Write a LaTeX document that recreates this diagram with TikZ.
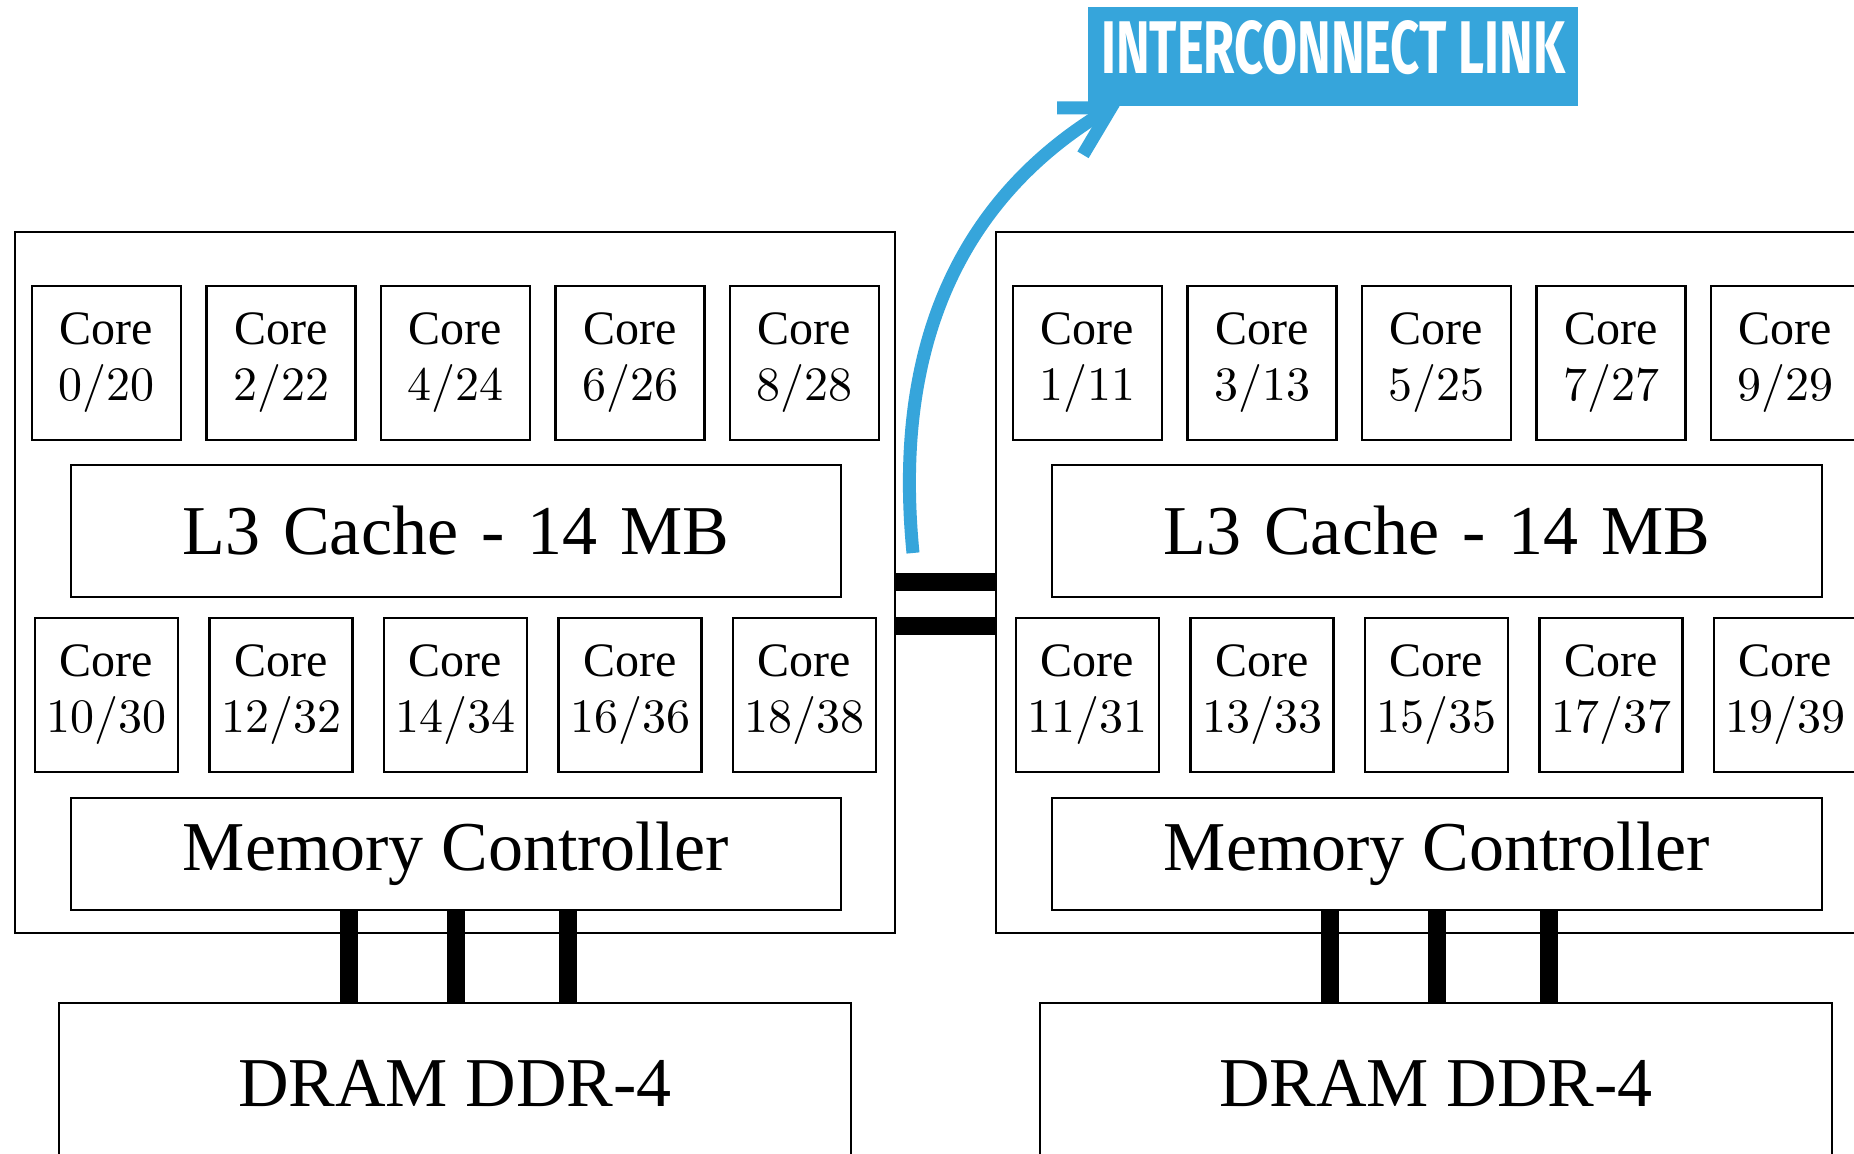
\documentclass[tikz,border=0pt]{standalone}
\usepackage{fontspec}
\setmainfont{Liberation Serif}
\newfontfamily\lmfont{lmroman10-regular}[Extension=.otf]
\newfontfamily\labelfont{Fira Sans}
\usepackage{graphicx}
\definecolor{linkblue}{RGB}{54,165,219}
\tikzset{
  box/.style={draw, line width=1.2pt, inner sep=0pt},
  corebox/.style={box, minimum width=74.5pt, minimum height=77pt, align=center,
    font=\fontsize{24}{28}\selectfont},
  bcorebox/.style={corebox, minimum width=71.5pt},
  widebox/.style={box, minimum width=385pt, font=\fontsize{35}{40}\selectfont},
  outerbox/.style={box, minimum width=440pt, minimum height=350.5pt},
  drambox/.style={box, minimum width=396pt, minimum height=80pt, font=\fontsize{35}{40}\selectfont},
  bus/.style={line width=9pt},
  linkbar/.style={line width=9pt},
  bluearrow/.style={draw=linkblue, line width=6.5pt},
}
\begin{document}
\begin{tikzpicture}[x=0.5pt,y=-0.5pt]
\clip (0,0) rectangle (1854,1154);
\fill[white] (0,0) rectangle (1854,1154);

% ---- left socket ----
\node[outerbox] (outL) at (455,582.5) {};
\foreach \a/\b [count=\i from 0] in {0/20,2/22,4/24,6/26,8/28}
  \node[corebox] (tL\i) at (106.5+174.5*\i,363) {Core\\{\lmfont \a/\b}};
\node[widebox, minimum height=66pt] (l3L) at (456,531) {\spaceskip=11.5pt\relax L3 Cache - 14 MB};
\foreach \a/\b [count=\i from 0] in {10/30,12/32,14/34,16/36,18/38}
  \node[bcorebox] (bL\i) at (106.5+174.5*\i,695) {Core\\{\lmfont \a/\b}};
\node[widebox, minimum height=56pt] (mcL) at (456,854) {Memory Controller};
\node[drambox] (dramL) at (455,1083) {DRAM DDR-4};
\foreach \s in {-107,0,112}
  \draw[bus] ([xshift=\s*0.5pt]mcL.south) -- ([xshift=\s*0.5pt]mcL.south |- dramL.north);

% ---- right socket ----
\node[outerbox] (outR) at (1436,582.5) {};
\foreach \a/\b [count=\i from 0] in {1/11,3/13,5/25,7/27,9/29}
  \node[corebox] (tR\i) at (1087.5+174.5*\i,363) {Core\\{\lmfont \a/\b}};
\node[widebox, minimum height=66pt] (l3R) at (1437,531) {\spaceskip=11.5pt\relax L3 Cache - 14 MB};
\foreach \a/\b [count=\i from 0] in {11/31,13/33,15/35,17/37,19/39}
  \node[bcorebox] (bR\i) at (1087.5+174.5*\i,695) {Core\\{\lmfont \a/\b}};
\node[widebox, minimum height=56pt] (mcR) at (1437,854) {Memory Controller};
\node[drambox] (dramR) at (1436,1083) {DRAM DDR-4};
\foreach \s in {-107,0,112}
  \draw[bus] ([xshift=\s*0.5pt]mcR.south) -- ([xshift=\s*0.5pt]mcR.south |- dramR.north);

% ---- interconnect bars ----
\draw[linkbar] (outL.east) -- (outR.west);
\draw[linkbar] ([yshift=-22pt]outL.east) -- ([yshift=-22pt]outR.west);

% ---- label ----
\node[fill=linkblue, text=white, anchor=north west, inner xsep=6.5pt, inner ysep=6.5pt,
  text height=26.5pt, text depth=10pt] (label) at (1088,7)
  {\resizebox{232pt}{26.5pt}{\labelfont\bfseries INTERCONNECT LINK}};

% ---- blue arrow ----
\coordinate (linkstart) at (913,553);
\coordinate (tip) at ([shift={(23,1)}]label.south west);
\draw[bluearrow] (linkstart) .. controls (890,320) and (980,184) .. (tip);
\draw[bluearrow, line join=miter] ([shift={(-54,0)}]tip) -- (tip) -- ([shift={(-28,47)}]tip);
\end{tikzpicture}
\end{document}
